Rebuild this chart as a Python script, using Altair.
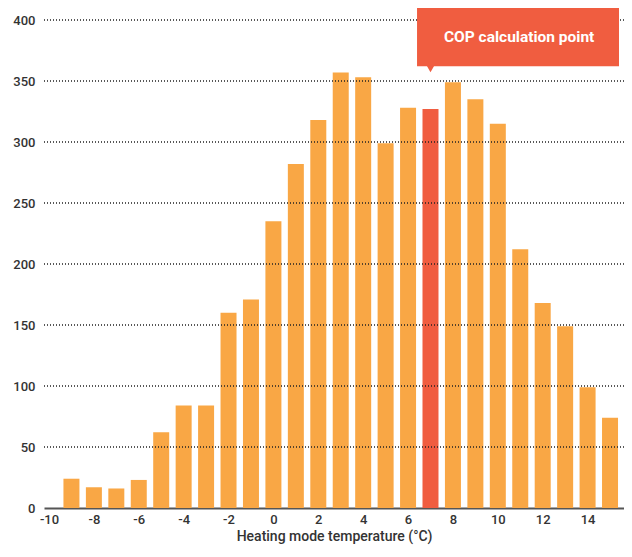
import altair as alt
import pandas as pd

temps = list(range(-9, 16))
hours = [24, 17, 16, 23, 62, 84, 84, 160, 171, 235, 282, 318, 357, 353, 299,
         328, 327, 349, 335, 315, 212, 168, 149, 99, 74]
highlight_temp = 7
x_ticks = list(range(-10, 15, 2))
y_ticks = [0, 50, 100, 150, 200, 250, 300, 350, 400]
grid_values = [50, 100, 150, 200, 250, 300, 350, 400]

ann_label = "COP calculation point"
ann_box = {"x": 6.4, "x2": 15.4, "y": 411, "y2": 362}
ann_pointer = {"x": 7.0, "y": 360}
ann_text = {"x": 10.95, "y": 386}

df = pd.DataFrame({"t": temps, "h": hours})
df["kind"] = ["hl" if t == highlight_temp else "base" for t in temps]

font = "Roboto"
X = alt.Scale(domain=[-10, 15.4], nice=False, zero=False)
Y = alt.Scale(domain=[0, 400], nice=False)

bars = alt.Chart(df).mark_bar(size=16).encode(
    x=alt.X("t:Q", scale=X,
            axis=alt.Axis(values=x_ticks, title="Heating mode temperature (°C)",
                          labelExpr="datum.value + ''", grid=False, ticks=False,
                          domainColor="#555555", domainWidth=2,
                          labelColor="#333333", labelFontSize=13, labelFont=font,
                          labelFontWeight=500, labelPadding=5,
                          titleFont=font, titleFontSize=14, titleFontWeight=500,
                          titleColor="#333333", titlePadding=3)),
    y=alt.Y("h:Q", scale=Y,
            axis=alt.Axis(values=y_ticks, title=None, grid=False, ticks=False,
                          domain=False, labelColor="#333333", labelFontSize=13,
                          labelFont=font, labelFontWeight=500, labelPadding=9)),
    color=alt.Color("kind:N", scale=alt.Scale(domain=["base", "hl"],
                                               range=["#F9A745", "#F05D40"]),
                    legend=None),
)

grid = alt.Chart(pd.DataFrame({"g": grid_values})).mark_rule(
    color="#222222", strokeDash=[1, 2], strokeWidth=1.3
).encode(y=alt.Y("g:Q", scale=Y))

box = alt.Chart(pd.DataFrame([ann_box])).mark_rect(color="#F05D40").encode(
    x=alt.X("x:Q", scale=X), x2="x2:Q", y=alt.Y("y:Q", scale=Y), y2="y2:Q")

pointer = alt.Chart(pd.DataFrame([ann_pointer])).mark_point(
    shape="triangle-down", filled=True, color="#F05D40", size=60, opacity=1
).encode(x=alt.X("x:Q", scale=X), y=alt.Y("y:Q", scale=Y))

text = alt.Chart(pd.DataFrame([{**ann_text, "label": ann_label}])).mark_text(
    color="white", font=font, fontSize=15.5, fontWeight="bold"
).encode(x=alt.X("x:Q", scale=X), y=alt.Y("y:Q", scale=Y), text="label:N")

chart = alt.layer(bars, grid, box, pointer, text).properties(
    width=580, height=488,
    autosize=alt.AutoSizeParams(type="none"),
    padding={"left": 36, "top": 12, "right": 0, "bottom": 40},
).configure_view(stroke=None)

chart.save("out.html", embed_options={"renderer": "svg", "actions": False})
